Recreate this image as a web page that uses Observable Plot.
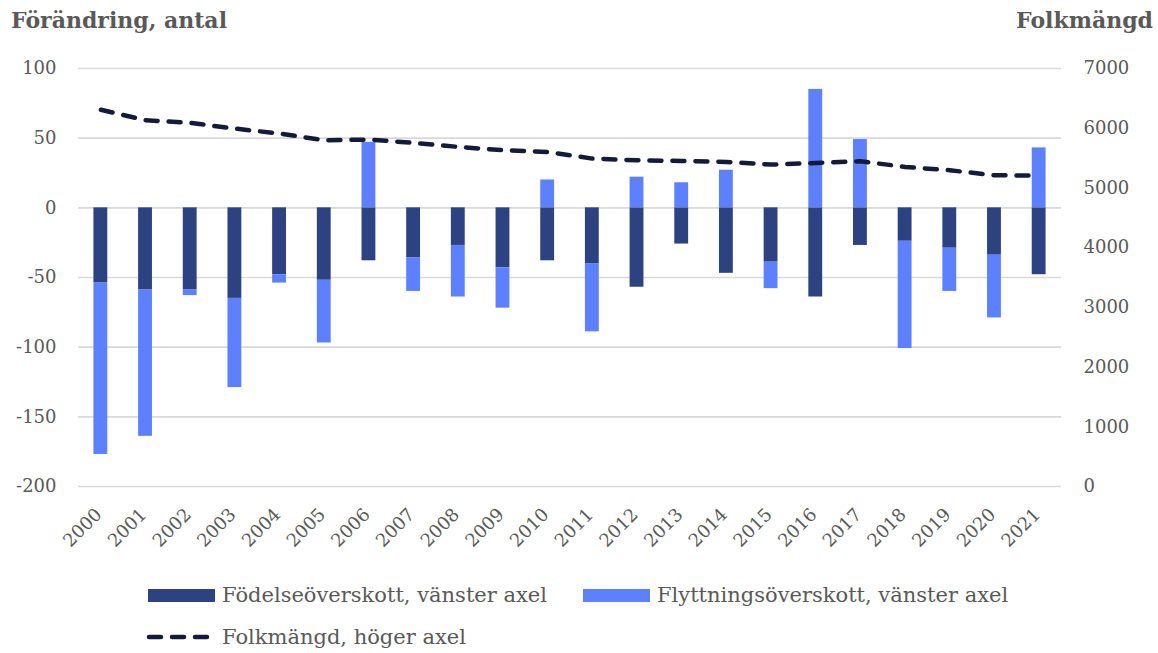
<!DOCTYPE html>
<html>
<head>
<meta charset="utf-8">
<script src="https://cdn.jsdelivr.net/npm/d3@7"></script>
<script src="https://cdn.jsdelivr.net/npm/@observablehq/plot@0.6"></script>
<style>
  body { margin: 0; background: #fff; font-family: "DejaVu Serif", serif; color: #595959; }
  #wrap { position: relative; width: 1158px; height: 653px; overflow: hidden; }
  .title { position: absolute; top: 7px; font-weight: bold; font-size: 22px; line-height: 26px; white-space: nowrap; }
  #chart { position: absolute; left: 0; top: 44px; }
  .sw { position: absolute; width: 67px; height: 13px; }
  .lt { position: absolute; font-size: 21px; line-height: 24px; white-space: nowrap; }
</style>
</head>
<body>
<div id="wrap">
  <div class="title" style="left:11px">Förändring, antal</div>
  <div class="title" style="right:5px">Folkmängd</div>
  <div id="chart"></div>
  <div id="legend"></div>
</div>
<script>
const years = ["2000","2001","2002","2003","2004","2005","2006","2007","2008","2009","2010",
               "2011","2012","2013","2014","2015","2016","2017","2018","2019","2020","2021"];
const fodelse = [-54,-59,-59,-65,-48,-52,-38,-36,-27,-43,-38,-40,-57,-26,-47,-39,-64,-27,-24,-29,-34,-48];
const flytt   = [-123,-105,-4,-64,-6,-45,47,-24,-37,-29,20,-49,22,18,27,-19,85,49,-77,-31,-45,43];
const folk    = [6310,6134,6089,5994,5911,5799,5810,5754,5687,5631,5603,5491,5463,5452,5435,5391,5418,5447,5352,5296,5212,5207];
const leftTicks = [-200,-150,-100,-50,0,50,100];
const rightTicks = [0,1000,2000,3000,4000,5000,6000,7000];
const seriesNames = ["Födelseöverskott, vänster axel","Flyttningsöverskott, vänster axel","Folkmängd, höger axel"];
const colors = ["#2d4280","#5c80ff","#141b3a"];

// map right axis (0..7000) onto left axis (-200..100)
const toLeft = v => v * 300 / 7000 - 200;
const fromLeft = v => (v + 200) * 7000 / 300;

const rows = [];
years.forEach((y, i) => rows.push({year: y, serie: seriesNames[0], value: fodelse[i]}));
years.forEach((y, i) => rows.push({year: y, serie: seriesNames[1], value: flytt[i]}));
const pop = years.map((y, i) => ({year: y, pop: folk[i]}));

const chart = Plot.plot({
  width: 1158,
  height: 516,
  marginTop: 24,
  marginLeft: 78,
  marginRight: 97,
  marginBottom: 74,
  style: {fontFamily: "DejaVu Serif", fontSize: "18px", color: "#595959", background: "transparent"},
  x: {type: "band", domain: years, paddingInner: 0.69, paddingOuter: 0.345, round: false, label: null},
  y: {domain: [-200, 100], label: null},
  color: {domain: seriesNames.slice(0, 2), range: colors.slice(0, 2)},
  marks: [
    Plot.gridY(leftTicks, {stroke: "#d9d9d9", strokeOpacity: 1, strokeWidth: 1.6}),
    Plot.barY(rows, {x: "year", y: "value", fill: "serie"}),
    Plot.line(pop, {x: "year", y: d => toLeft(d.pop), stroke: colors[2], strokeWidth: 4.5,
                    strokeDasharray: "12,11", strokeLinecap: "round"}),
    Plot.axisY(leftTicks, {anchor: "left", tickSize: 0, tickPadding: 22, label: null, fill: "#595959",
               tickFormat: d => String(d)}),
    Plot.axisY(rightTicks.map(toLeft), {anchor: "right", tickSize: 0, tickPadding: 22, label: null,
               tickFormat: d => String(Math.round(fromLeft(d))), fill: "#595959"}),
    Plot.axisX({tickRotate: -45, tickSize: 0, tickPadding: 15, dx: -2, dy: 10, label: null, fill: "#595959"})
  ]
});
document.getElementById("chart").appendChild(chart);

// legend
const lg = document.getElementById("legend");
lg.innerHTML = `
  <div class="sw" style="left:148px;top:589px;background:${colors[0]}"></div>
  <div class="lt" style="left:222px;top:583px">${seriesNames[0]}</div>
  <div class="sw" style="left:583px;top:589px;background:${colors[1]}"></div>
  <div class="lt" style="left:657px;top:583px">${seriesNames[1]}</div>
  <svg style="position:absolute;left:144px;top:631px" width="76" height="12">
    <line x1="5" y1="6" x2="71" y2="6" stroke="${colors[2]}" stroke-width="4.5" stroke-linecap="round" stroke-dasharray="12,11"></line>
  </svg>
  <div class="lt" style="left:222px;top:625px">${seriesNames[2]}</div>`;
</script>
</body>
</html>
